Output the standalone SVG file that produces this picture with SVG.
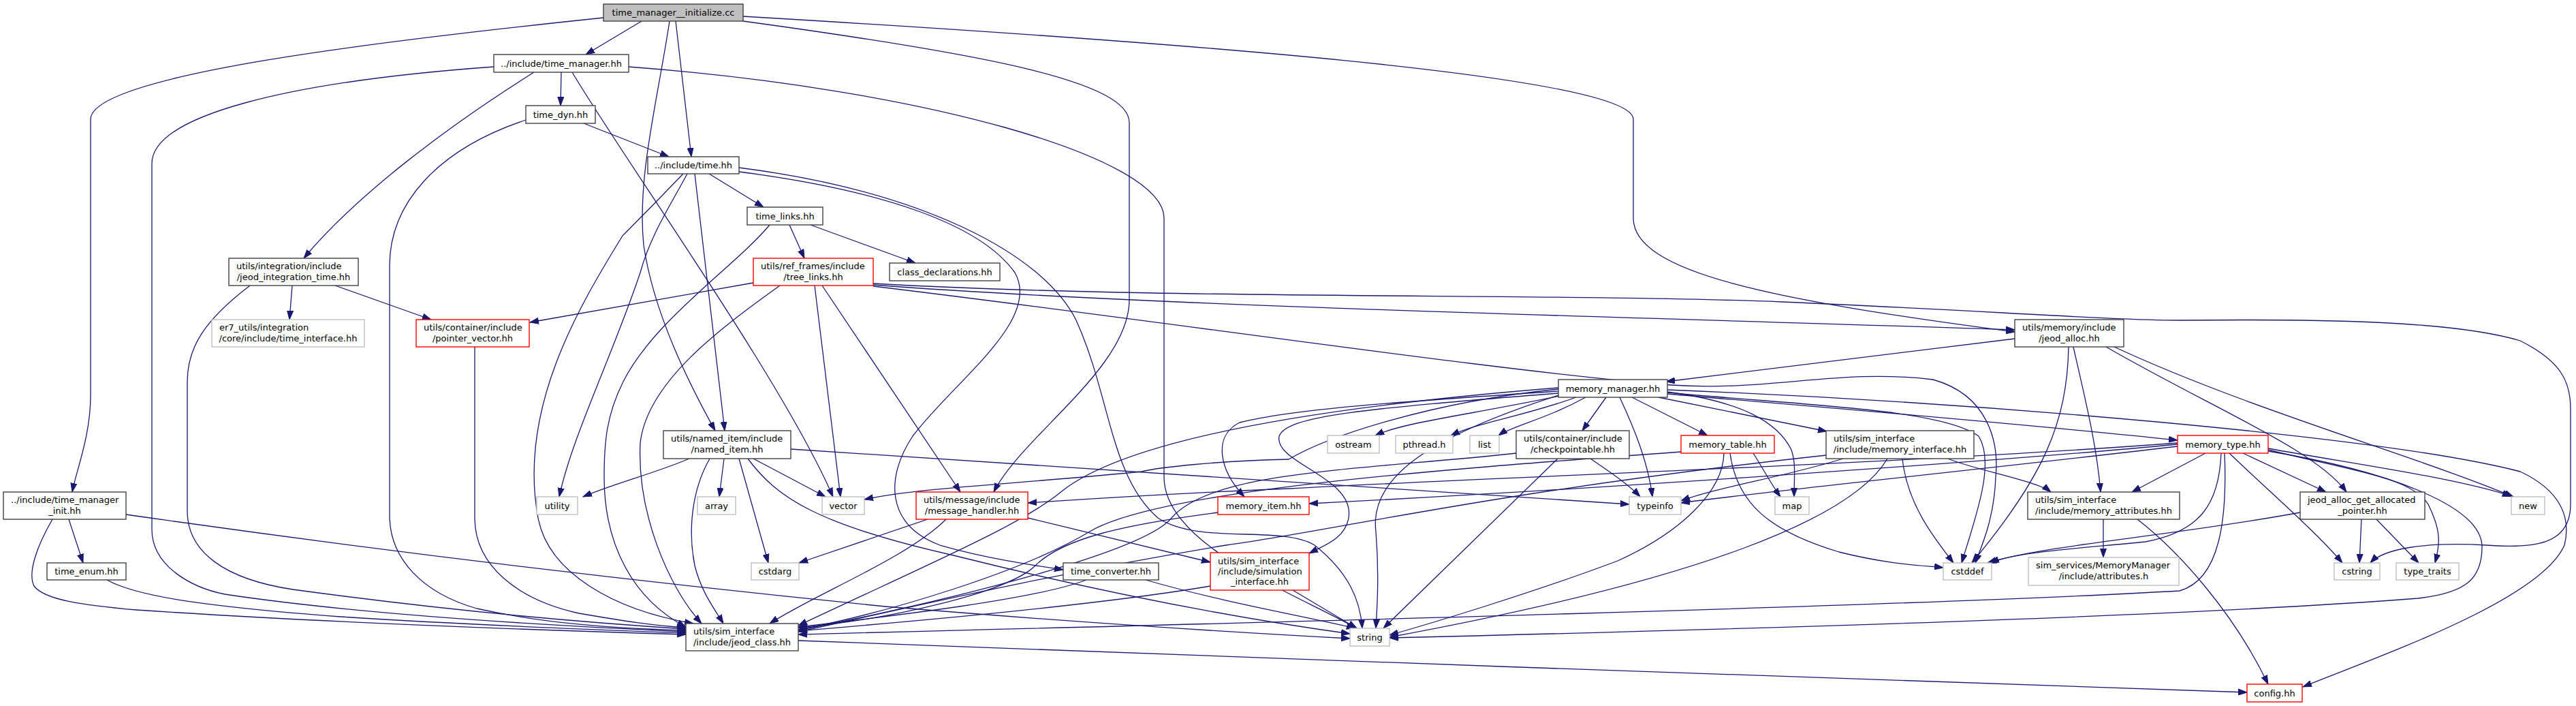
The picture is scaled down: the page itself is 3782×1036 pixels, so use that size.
<svg xmlns="http://www.w3.org/2000/svg" width="3782" height="1036" viewBox="0 0 3782 1036">
<style>
.e{fill:none;stroke:#191970;stroke-width:1.3;marker-end:url(#ah)}
.b{fill:#fff;stroke:#404040;stroke-width:1.4}
.gr{fill:#fff;stroke:#bfbfbf;stroke-width:1.4}
.rd{fill:#fff;stroke:#ff0000;stroke-width:1.4}
.rt{fill:#bfbfbf;stroke:#404040;stroke-width:1.4}
text{font-family:"DejaVu Sans",Verdana,sans-serif;font-size:13px;fill:#000}
.m{text-anchor:middle}
</style>
<defs>
<marker id="ah" markerUnits="userSpaceOnUse" markerWidth="14" markerHeight="10" refX="13" refY="5" orient="auto">
<path d="M0,0.5 L13,5 L0,9.5 z" fill="#191970" stroke="#191970" stroke-width="1"/>
</marker>
</defs>
<rect width="3782" height="1036" fill="#fff"/>
<g id="edges">
<path class="e" d="M942,31 L860,80"/>
<path class="e" d="M886,26 C560,60 133,110 133,175 L133,580 C133,640 112,690 106,722"/>
<path class="e" d="M992,31 L1015,230"/>
<path class="e" d="M983,31 C965,150 935,260 945,360 C960,460 1010,560 1050,632"/>
<path class="e" d="M1091,31 C1450,80 1658,120 1658,180 L1658,440 C1658,540 1500,640 1459,722"/>
<path class="e" d="M1091,24 C1700,60 2398,110 2398,175 L2398,320 C2398,400 2600,440 2958,487"/>
<path class="e" d="M824,106 L823,155"/>
<path class="e" d="M784,106 C650,190 520,290 446,379"/>
<path class="e" d="M725,98 C420,120 223,170 223,240 L223,777 C223,830 280,862 330,872 C550,905 850,920 1007,927"/>
<path class="e" d="M840,106 C920,240 1150,560 1223,729"/>
<path class="e" d="M923,98 C1350,130 1709,230 1709,320 L1709,700 C1709,800 1900,870 1992,922"/>
<path class="e" d="M857,181 L982,230"/>
<path class="e" d="M772,176 C640,220 572,300 572,390 L572,756 C572,820 620,870 700,893 C800,915 900,922 1007,925"/>
<path class="e" d="M1041,255 L1121,304"/>
<path class="e" d="M1020,255 L1064,632"/>
<path class="e" d="M1009,255 C985,300 955,345 940,400 C900,520 840,640 821,729"/>
<path class="e" d="M1003,255 C960,300 930,330 914,346 C850,450 760,600 790,760 C805,840 900,895 1018,915"/>
<path class="e" d="M1085,252 C1300,280 1440,330 1490,400 C1530,470 1400,560 1340,640 C1300,700 1300,770 1380,800 C1450,820 1520,830 1561,836"/>
<path class="e" d="M1085,246 C1350,280 1530,370 1580,470 C1630,580 1630,700 1700,760 C1760,800 1880,770 1930,800 C1980,840 1997,880 2000,922"/>
<path class="e" d="M1159,330 L1181,379"/>
<path class="e" d="M1190,330 L1344,386"/>
<path class="e" d="M1130,330 C1080,390 960,470 915,560 C890,610 887,650 887,700 C887,800 930,880 1007,920"/>
<path class="e" d="M1106,415 L778,473"/>
<path class="e" d="M1145,419 C1060,480 950,560 940,650 C935,750 980,860 1030,915"/>
<path class="e" d="M1196,419 L1234,729"/>
<path class="e" d="M1207,419 L1410,722"/>
<path class="e" d="M1282,418 C1700,450 2400,465 2958,484"/>
<path class="e" d="M1282,416 C1700,440 2300,430 2616,443 C2900,455 3100,470 3200,470 C3400,468 3600,470 3700,500 C3760,530 3774,560 3774,600 L3774,740 C3774,800 3720,805 3650,800 C3560,795 3500,805 3480,826"/>
<path class="e" d="M1282,420 C1700,470 2200,545 2453,565 C2600,575 2700,540 2838,557 C2920,580 2935,650 2930,700 C2928,760 2910,800 2900,826"/>
<path class="e" d="M1012,673 C960,695 900,710 856,729"/>
<path class="e" d="M1063,673 L1056,729"/>
<path class="e" d="M1085,673 L1128,826"/>
<path class="e" d="M1106,673 L1212,729"/>
<path class="e" d="M1042,673 C1015,720 1010,780 1020,830 C1030,870 1050,895 1062,915"/>
<path class="e" d="M1161,659 C1500,680 1900,705 2392,740"/>
<path class="e" d="M1098,673 C1140,730 1200,770 1400,815 C1600,865 1800,905 1982,930"/>
<path class="e" d="M697,509 L697,760 C697,830 760,880 850,900 C920,912 960,918 1007,921"/>
<path class="e" d="M429,419 L425,469"/>
<path class="e" d="M492,419 L633,469"/>
<path class="e" d="M367,419 C300,470 275,510 275,560 L275,750 C275,810 330,850 430,865 C650,895 850,913 1007,923"/>
<path class="e" d="M101,762 L122,826"/>
<path class="e" d="M77,762 C55,800 40,840 50,860 C65,880 120,888 200,895 C500,915 800,925 1007,931"/>
<path class="e" d="M185,755 C500,800 900,850 1300,890 C1600,915 1850,930 1982,937"/>
<path class="e" d="M157,851 C200,875 300,890 500,905 C700,918 900,925 1007,929"/>
<path class="e" d="M1362,762 L1173,826"/>
<path class="e" d="M1389,762 C1330,820 1200,870 1130,915"/>
<path class="e" d="M1509,760 L1777,825"/>
<path class="e" d="M1595,851 C1520,880 1300,905 1172,920"/>
<path class="e" d="M1682,851 C1800,885 1920,905 1990,922"/>
<path class="e" d="M1898,866 L1992,922"/>
<path class="e" d="M1777,860 C1600,890 1300,915 1172,926"/>
<path class="e" d="M1788,752 C1650,770 1560,790 1520,830 C1480,870 1300,910 1172,921"/>
<path class="e" d="M2290,581 C2150,610 2060,620 2019,639"/>
<path class="e" d="M2314,583 C2240,610 2170,620 2130,639"/>
<path class="e" d="M2328,583 C2270,615 2220,625 2200,639"/>
<path class="e" d="M2358,583 L2323,632"/>
<path class="e" d="M2378,583 C2400,630 2420,680 2426,729"/>
<path class="e" d="M2396,583 L2507,639"/>
<path class="e" d="M2435,583 L2682,633"/>
<path class="e" d="M2448,578 C2700,600 2950,620 3197,646"/>
<path class="e" d="M2448,572 C2900,590 3500,640 3700,692 C3760,720 3775,760 3765,800 C3730,880 3500,960 3381,1008"/>
<path class="e" d="M2448,575 C2560,590 2610,620 2630,660 C2637,680 2634,700 2634,729"/>
<path class="e" d="M2448,576 C2650,595 2850,600 2905,640 C2930,680 2900,760 2880,826"/>
<path class="e" d="M2288,574 C2050,590 1900,600 1820,620 C1780,640 1790,690 1827,729"/>
<path class="e" d="M2288,577 C2000,600 1890,610 1878,640 C1870,680 1990,700 1980,760 C1975,790 1945,800 1922,812"/>
<path class="e" d="M2288,571 C2100,590 1950,640 1892,674 C1790,676 1700,686 1676,692 C1500,710 1350,715 1269,733"/>
<path class="e" d="M2288,580 C2100,640 2010,700 2020,780 C2025,840 2022,890 2020,922"/>
<path class="e" d="M2288,569 C1900,600 1650,650 1560,720 C1500,770 1380,820 1172,918"/>
<path class="e" d="M2531,665 C2530,720 2470,780 2375,823 C2250,870 2100,915 2040,932"/>
<path class="e" d="M2574,665 C2590,690 2600,710 2614,729"/>
<path class="e" d="M2540,665 C2550,740 2600,780 2700,810 C2780,830 2830,830 2853,833"/>
<path class="e" d="M2468,663 C2100,690 1700,720 1600,780 C1500,840 1300,900 1172,924"/>
<path class="e" d="M2287,673 L2031,922"/>
<path class="e" d="M2335,673 C2360,690 2390,710 2408,729"/>
<path class="e" d="M2226,665 C2000,690 1780,690 1720,760 C1680,810 1400,880 1172,925"/>
<path class="e" d="M2771,673 C2720,760 2500,850 2040,935"/>
<path class="e" d="M2706,673 C2620,700 2520,715 2468,735"/>
<path class="e" d="M2793,673 C2800,740 2840,790 2868,826"/>
<path class="e" d="M2860,673 C2900,690 2990,705 3011,722"/>
<path class="e" d="M2681,668 C2200,720 1950,780 1800,800 C1500,850 1300,900 1172,927"/>
<path class="e" d="M2958,497 L2446,560"/>
<path class="e" d="M3044,509 C3060,580 3078,650 3084,722"/>
<path class="e" d="M3037,509 C3035,620 3000,700 2895,826"/>
<path class="e" d="M3092,509 C3250,600 3400,660 3445,722"/>
<path class="e" d="M3104,509 C3300,600 3550,670 3690,729"/>
<path class="e" d="M3197,655 C2900,690 2600,720 2468,738"/>
<path class="e" d="M3197,652 C2900,680 2300,720 1922,739"/>
<path class="e" d="M3197,650 C2800,680 2200,700 1892,717 C1700,725 1600,732 1509,738"/>
<path class="e" d="M3238,665 L3130,722"/>
<path class="e" d="M3261,665 C3258,740 3230,780 3150,795 C3050,805 2960,810 2922,826"/>
<path class="e" d="M3266,665 C3270,760 3260,850 3200,867 C2800,890 1800,915 1172,931"/>
<path class="e" d="M3273,665 C3330,720 3400,780 3439,826"/>
<path class="e" d="M3293,665 L3415,722"/>
<path class="e" d="M3330,658 C3450,680 3600,700 3687,728"/>
<path class="e" d="M3330,660 C3450,690 3540,700 3565,740 C3585,780 3582,800 3575,826"/>
<path class="e" d="M3330,662 C3500,690 3640,740 3644,800 C3645,850 3620,870 3550,878 C3200,905 2500,925 2040,936"/>
<path class="e" d="M3088,762 L3088,818"/>
<path class="e" d="M3138,762 C3200,810 3280,900 3330,1004"/>
<path class="e" d="M3377,752 C3200,785 3000,800 2918,826"/>
<path class="e" d="M3467,762 L3464,826"/>
<path class="e" d="M3489,762 L3551,826"/>
<path class="e" d="M1172,940 C1700,965 2800,995 3299,1016"/>
</g>
<g id="n_root"><rect class="rt" x="886" y="6" width="205" height="25"/><text class="m" x="988.5" y="23">time_manager__initialize.cc</text></g>
<g id="n_time_manager"><rect class="b" x="725" y="80" width="198" height="26"/><text class="m" x="824" y="97.5">../include/time_manager.hh</text></g>
<g id="n_time_dyn"><rect class="b" x="772" y="155" width="102" height="26"/><text class="m" x="823" y="172.5">time_dyn.hh</text></g>
<g id="n_time"><rect class="b" x="951" y="230" width="134" height="25"/><text class="m" x="1018" y="247">../include/time.hh</text></g>
<g id="n_time_links"><rect class="b" x="1097" y="304" width="111" height="26"/><text class="m" x="1152.5" y="321.5">time_links.hh</text></g>
<g id="n_jeod_integration_time"><rect class="b" x="336" y="379" width="190" height="40"/><text x="347" y="395">utils/integration/include</text><text class="m" x="431" y="411">/jeod_integration_time.hh</text></g>
<g id="n_time_interface"><rect class="gr" x="311" y="469" width="224" height="40"/><text x="322" y="485">er7_utils/integration</text><text class="m" x="423" y="501">/core/include/time_interface.hh</text></g>
<g id="n_pointer_vector"><rect class="rd" x="611" y="469" width="166" height="40"/><text x="622" y="485">utils/container/include</text><text class="m" x="694" y="501">/pointer_vector.hh</text></g>
<g id="n_tree_links"><rect class="rd" x="1106" y="379" width="176" height="40"/><text x="1117" y="395">utils/ref_frames/include</text><text class="m" x="1194" y="411">/tree_links.hh</text></g>
<g id="n_class_declarations"><rect class="b" x="1306" y="386" width="162" height="26"/><text class="m" x="1387" y="403.5">class_declarations.hh</text></g>
<g id="n_named_item"><rect class="b" x="974" y="632" width="187" height="41"/><text x="985" y="648">utils/named_item/include</text><text class="m" x="1067.5" y="664">/named_item.hh</text></g>
<g id="n_memory_manager"><rect class="b" x="2288" y="557" width="160" height="26"/><text class="m" x="2368" y="574.5">memory_manager.hh</text></g>
<g id="n_ostream"><rect class="gr" x="1949" y="639" width="76" height="26"/><text class="m" x="1987" y="656.5">ostream</text></g>
<g id="n_pthread"><rect class="gr" x="2049" y="639" width="84" height="26"/><text class="m" x="2091" y="656.5">pthread.h</text></g>
<g id="n_list"><rect class="gr" x="2158" y="639" width="43" height="26"/><text class="m" x="2179.5" y="656.5">list</text></g>
<g id="n_checkpointable"><rect class="b" x="2226" y="632" width="166" height="41"/><text x="2237" y="648">utils/container/include</text><text class="m" x="2309" y="664">/checkpointable.hh</text></g>
<g id="n_memory_table"><rect class="rd" x="2468" y="639" width="137" height="26"/><text class="m" x="2536.5" y="656.5">memory_table.hh</text></g>
<g id="n_memory_interface"><rect class="b" x="2681" y="632" width="217" height="41"/><text x="2692" y="648">utils/sim_interface</text><text class="m" x="2789.5" y="664">/include/memory_interface.hh</text></g>
<g id="n_jeod_alloc"><rect class="b" x="2958" y="469" width="160" height="40"/><text x="2969" y="485">utils/memory/include</text><text class="m" x="3038" y="501">/jeod_alloc.hh</text></g>
<g id="n_memory_type"><rect class="rd" x="3197" y="639" width="133" height="26"/><text class="m" x="3263.5" y="656.5">memory_type.hh</text></g>
<g id="n_time_manager_init"><rect class="b" x="5" y="722" width="180" height="40"/><text x="16" y="738">../include/time_manager</text><text class="m" x="95" y="754">_init.hh</text></g>
<g id="n_time_enum"><rect class="b" x="69" y="826" width="116" height="25"/><text class="m" x="127" y="843">time_enum.hh</text></g>
<g id="n_utility"><rect class="gr" x="788" y="729" width="60" height="26"/><text class="m" x="818" y="746.5">utility</text></g>
<g id="n_array"><rect class="gr" x="1024" y="729" width="56" height="26"/><text class="m" x="1052" y="746.5">array</text></g>
<g id="n_vector"><rect class="gr" x="1207" y="729" width="62" height="26"/><text class="m" x="1238" y="746.5">vector</text></g>
<g id="n_message_handler"><rect class="rd" x="1345" y="722" width="164" height="40"/><text x="1356" y="738">utils/message/include</text><text class="m" x="1427" y="754">/message_handler.hh</text></g>
<g id="n_memory_item"><rect class="rd" x="1788" y="729" width="134" height="26"/><text class="m" x="1855" y="746.5">memory_item.hh</text></g>
<g id="n_cstdarg"><rect class="gr" x="1103" y="826" width="70" height="25"/><text class="m" x="1138" y="843">cstdarg</text></g>
<g id="n_time_converter"><rect class="b" x="1561" y="826" width="140" height="25"/><text class="m" x="1631" y="843">time_converter.hh</text></g>
<g id="n_simulation_interface"><rect class="rd" x="1777" y="811" width="145" height="55"/><text x="1788" y="828">utils/sim_interface</text><text x="1788" y="843">/include/simulation</text><text class="m" x="1849.5" y="858">_interface.hh</text></g>
<g id="n_jeod_class"><rect class="b" x="1007" y="915" width="165" height="40"/><text x="1018" y="931">utils/sim_interface</text><text class="m" x="1089.5" y="947">/include/jeod_class.hh</text></g>
<g id="n_typeinfo"><rect class="gr" x="2392" y="729" width="76" height="26"/><text class="m" x="2430" y="746.5">typeinfo</text></g>
<g id="n_map"><rect class="gr" x="2606" y="729" width="50" height="26"/><text class="m" x="2631" y="746.5">map</text></g>
<g id="n_string"><rect class="gr" x="1982" y="922" width="58" height="26"/><text class="m" x="2011" y="939.5">string</text></g>
<g id="n_memory_attributes"><rect class="b" x="2977" y="722" width="223" height="40"/><text x="2988" y="738">utils/sim_interface</text><text class="m" x="3088.5" y="754">/include/memory_attributes.hh</text></g>
<g id="n_cstddef"><rect class="gr" x="2853" y="826" width="71" height="25"/><text class="m" x="2888.5" y="843">cstddef</text></g>
<g id="n_attributes"><rect class="gr" x="2978" y="818" width="221" height="41"/><text x="2989" y="834">sim_services/MemoryManager</text><text class="m" x="3088.5" y="850">/include/attributes.h</text></g>
<g id="n_jeod_alloc_get_allocated_pointer"><rect class="b" x="3377" y="722" width="183" height="40"/><text x="3388" y="738">jeod_alloc_get_allocated</text><text class="m" x="3468.5" y="754">_pointer.hh</text></g>
<g id="n_new"><rect class="gr" x="3687" y="729" width="49" height="26"/><text class="m" x="3711.5" y="746.5">new</text></g>
<g id="n_cstring"><rect class="gr" x="3427" y="826" width="67" height="25"/><text class="m" x="3460.5" y="843">cstring</text></g>
<g id="n_type_traits"><rect class="gr" x="3518" y="826" width="92" height="25"/><text class="m" x="3564" y="843">type_traits</text></g>
<g id="n_config"><rect class="rd" x="3299" y="1004" width="81" height="26"/><text class="m" x="3339.5" y="1021.5">config.hh</text></g>
</svg>
